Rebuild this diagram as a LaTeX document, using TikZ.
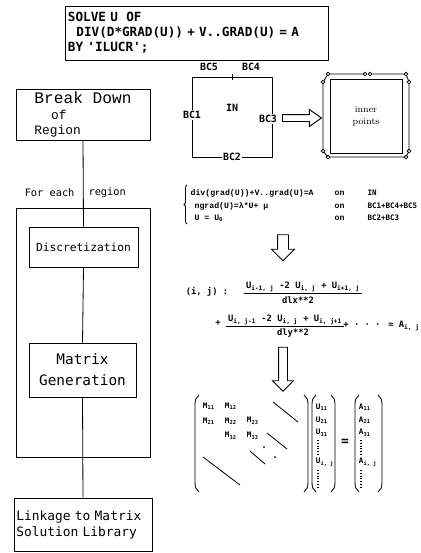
\documentclass[tikz,border=0pt]{standalone}
\usepackage{fontspec}
\usepackage{tikz}
\usetikzlibrary{shapes.arrows,decorations.pathreplacing,positioning}
\newfontfamily\gothfont{DejaVu Sans Mono}
\newfontfamily\typefont{Liberation Mono}
\tikzset{
  flowbox/.style={draw, thick, rectangle, inner sep=2pt},
  hollowarrow/.style={draw, thick, single arrow, inner xsep=0pt, fill=white},
  bclabel/.style={font=\gothfont\bfseries\fontsize{8.5}{10}\selectfont, inner sep=1pt},
  eqtext/.style={font=\typefont\bfseries\fontsize{7}{8}\selectfont, inner sep=1pt},
  bcsmall/.style={font=\gothfont\bfseries\fontsize{6.4}{8}\selectfont, inner sep=1pt},
  fdtext/.style={font=\gothfont\bfseries\fontsize{7.5}{9}\selectfont, inner sep=1pt},
  mattext/.style={font=\gothfont\bfseries\fontsize{6.5}{8}\selectfont, inner sep=0.5pt, anchor=west},
}

\begin{document}
\begin{tikzpicture}[x=0.03cm, y=-0.03cm, line width=0.7pt]
    \useasboundingbox (0,0) rectangle (421,553);

    % Problem statement
    \node [draw, thick, minimum width=7.89cm, minimum height=1.62cm, text width=7.71cm, align=left, inner sep=0pt, font=\gothfont\bfseries\fontsize{10.8}{12.8}\selectfont] (solve) at (196.5,33) {SOLVE~U~~OF\\~~DIV(D*GRAD(U)) + V..GRAD(U) = A\\BY~'ILUCR';};

    % Program flow
    \node [flowbox, minimum width=4.02cm, minimum height=1.53cm, align=left, font=\typefont\fontsize{11}{13.2}\selectfont] (breakdown) at (83,114.5) {{\fontsize{13.8}{13.2}\selectfont Break Down}\\\hspace*{1.3em}of\\Region};
    \node [flowbox, minimum width=4.02cm, minimum height=7.47cm] (loop) at (83,332.5) {};
    \node [flowbox, fill=white, minimum width=3.27cm, minimum height=1.2cm, font=\gothfont\fontsize{9.6}{11}\selectfont] (discret) at (83.5,247) {Discretization};
    \node [flowbox, fill=white, minimum width=3.21cm, minimum height=1.62cm, align=center, font=\gothfont\fontsize{12.3}{18}\selectfont] (matgen) at (82.5,370) {Matrix\\Generation};
    \node [flowbox, minimum width=4.08cm, minimum height=1.59cm, text width=4.0cm, align=left, font=\gothfont\fontsize{11}{13.7}\selectfont] (linkage) at (83,524.5) {Linkage to Matrix\\Solution Library};

    \draw (breakdown.south) -- (discret.north);
    \draw (discret.south) -- (matgen.north);
    \draw (matgen.south) -- (linkage.north);

    \node [font=\gothfont\fontsize{8.8}{10}\selectfont, anchor=east, inner sep=1pt] (foreach) at (76,193) {For each};
    \node [font=\gothfont\fontsize{8.8}{10}\selectfont, anchor=west, inner sep=1pt] (foreachb) at (87,193) {region};

    % Region and its boundaries
    \node [draw, thick, minimum size=2.4cm] (region) at (232,117) {};
    \draw (232,74) -- (232,80);
    \node [bclabel] (bcfive) at (209,67) {BC5};
    \node [bclabel] (bcfour) at (251,67) {BC4};
    \node [bclabel, fill=white] (bcone) at (192,115) {BC1};
    \node [bclabel, fill=white] (bcthree) at (268,119) {BC3};
    \node [bclabel, fill=white] (bctwo) at (232,157) {BC2};
    \node [bclabel] (inlabel) at (232,108) {IN};

    \node [hollowarrow, minimum height=1.17cm, minimum width=0.48cm, inner ysep=0.09cm, single arrow head extend=0.15cm, single arrow tip angle=70] (toinner) at (299.5,118) {};

    % Grid with boundary points
    \draw (328,74) -- (365,74) (370,74) -- (406,74) (323,82) -- (323,151) (409,82) -- (409,151) (328,157) -- (406,157)
          (328,74) -- (323,82) (406,74) -- (409,82) (323,151) -- (328,157) (406,157) -- (409,151);
    \draw [thick] (330,79) rectangle (402,153);
    \foreach \cx/\cy in {328/74,323/82,365/74,370/74,406/74,409/82,323/151,328/157,406/157,409/151}
        \draw [fill=white] (\cx,\cy) circle[radius=0.055cm];
    \node [font=\fontsize{8}{10}\selectfont, align=center] (innerpts) at (366,116) {inner\\points};

    % Boundary value problem
    \draw [decorate, decoration={brace, amplitude=2.5pt}] (187,224) -- (187,185);
    \node [eqtext, anchor=west] (pde) at (189,193) {div(grad(U))+V..grad(U)=A};
    \node [eqtext, anchor=west] (bcflux) at (193,206) {ngrad(U)=λ*U+ μ};
    \node [eqtext, anchor=west] (bcfix) at (193,218) {U = U\textsubscript{0}};
    \node [eqtext, anchor=west] (onpde) at (333,193) {on};
    \node [eqtext, anchor=west] (onflux) at (333,206) {on};
    \node [eqtext, anchor=west] (onfix) at (333,218) {on};
    \node [bcsmall, anchor=west] (setin) at (366,193) {IN};
    \node [bcsmall, anchor=west] (setflux) at (366,206) {BC1+BC4+BC5};
    \node [bcsmall, anchor=west] (setfix) at (366,218) {BC2+BC3};

    \node [hollowarrow, rotate=-90, minimum height=0.78cm, minimum width=0.66cm, inner ysep=0.15cm, single arrow head extend=0.18cm] (todiscrete) at (283,245) {};

    % Difference equation
    \node [fdtext] (ij) at (207,292) {(i, j) :};
    \node [fdtext] (numx) at (303,287) {U\textsubscript{i-1, j} -2 U\textsubscript{i, j} + U\textsubscript{i+1, j}};
    \draw (numx.south west) -- (numx.south east);
    \node [fdtext] (denx) at (298,300) {dlx**2};
    \node [fdtext] (plusy) at (218,323) {+};
    \node [fdtext] (numy) at (285,320) {U\textsubscript{i, j-1} -2 U\textsubscript{i, j} + U\textsubscript{i, j+1}};
    \draw (numy.south west) -- (numy.south east);
    \node [fdtext] (deny) at (293,333) {dly**2};
    \node [fdtext] (moreterms) at (362,325) {+ · · ·};
    \node [fdtext] (rhs) at (404,326) {= A\textsubscript{i, j}};

    \node [hollowarrow, rotate=-90, minimum height=1.32cm, minimum width=0.6cm, inner ysep=0.12cm, single arrow head extend=0.18cm] (tomatrix) at (283,367) {};

    % Linear system
    \foreach \xl/\xr in {195/308, 312/335, 355/382} {
        \draw (\xl+4,395) .. controls (\xl+1,397) and (\xl,400) .. (\xl,405) -- (\xl,482) .. controls (\xl,487) and (\xl+1,490) .. (\xl+4,492);
        \draw (\xr-4,395) .. controls (\xr-1,397) and (\xr,400) .. (\xr,405) -- (\xr,482) .. controls (\xr,487) and (\xr-1,490) .. (\xr-4,492);
    }
    \node [mattext] (m11) at (202,406) {M\textsubscript{11}};
    \node [mattext] (m12) at (224,406) {M\textsubscript{12}};
    \node [mattext] (m21) at (202,421) {M\textsubscript{21}};
    \node [mattext] (m22) at (224,421) {M\textsubscript{22}};
    \node [mattext] (m23) at (246,421) {M\textsubscript{23}};
    \node [mattext] (m32) at (224,436) {M\textsubscript{32}};
    \node [mattext] (m33) at (246,436) {M\textsubscript{33}};
    \draw (273,402) -- (298,422);
    \draw (267,433) -- (287,449);
    \draw (250,451) -- (265,464);
    \draw (203,457) -- (240,485);
    \fill (264,447) circle[radius=0.03cm] (275,457) circle[radius=0.03cm];

    \node [mattext] (u11) at (315,407) {U\textsubscript{11}};
    \node [mattext] (u21) at (315,420) {U\textsubscript{21}};
    \node [mattext] (u31) at (315,433) {U\textsubscript{31}};
    \node [mattext] (uij) at (315,462) {U\textsubscript{i, j}};
    \draw [dash pattern=on 0.8pt off 1.6pt, line width=1pt] (318,440) -- (318,455) (318,470) -- (318,487);

    \node [font=\gothfont\bfseries\fontsize{11}{12}\selectfont] (equals) at (345,442) {=};

    \node [mattext] (a11) at (358,407) {A\textsubscript{11}};
    \node [mattext] (a21) at (358,420) {A\textsubscript{21}};
    \node [mattext] (a31) at (358,433) {A\textsubscript{31}};
    \node [mattext] (aij) at (358,462) {A\textsubscript{i, j}};
    \draw [dash pattern=on 0.8pt off 1.6pt, line width=1pt] (361,440) -- (361,455) (361,470) -- (361,487);
\end{tikzpicture}
\end{document}
